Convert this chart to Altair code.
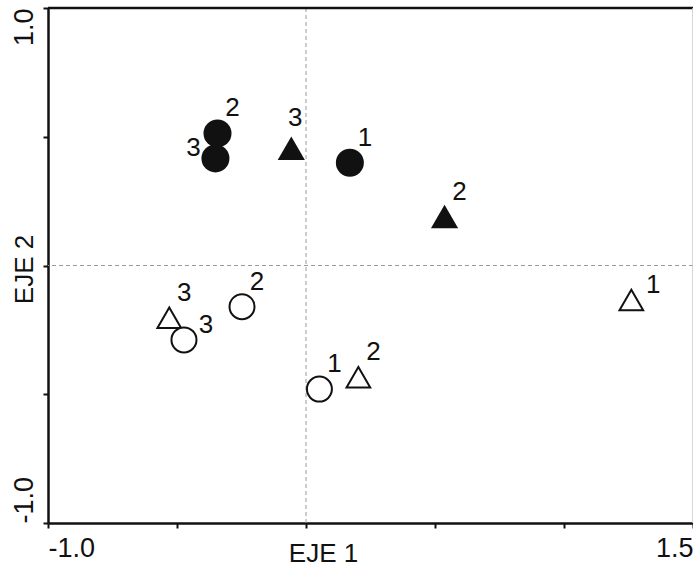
import altair as alt
import pandas as pd

FONT = "Liberation Sans"

# ---- data ----
marker = ["circle", "circle", "circle", "triangle", "triangle",
          "triangle", "triangle", "triangle", "circle", "circle", "circle"]
filled = [True, True, True, True, True, False, False, False, False, False, False]
labels = ["1", "2", "3", "2", "3", "1", "2", "3", "1", "2", "3"]
eje1 = [0.170, -0.343, -0.351, 0.537, -0.057, 1.261, 0.203, -0.530, 0.052, -0.248, -0.473]
eje2 = [0.399, 0.513, 0.416, 0.190, 0.455, -0.134, -0.434, -0.203, -0.480, -0.160, -0.289]
label_place = ["ur", "ur", "l", "ur", "u", "r", "ur", "ur", "ur", "ur", "r"]

x_ticks = [-1.0, -0.5, 0.0, 0.5, 1.0, 1.5]
y_ticks = [-1.0, -0.5, 0.0, 0.5, 1.0]

df = pd.DataFrame({"marker": marker, "filled": filled, "label": labels,
                   "x": eje1, "y": eje2, "place": label_place})

INK = "#111111"

x_axis = alt.Axis(
    values=x_ticks,
    labelExpr="datum.value == -1 ? '-1.0' : (datum.value == 1.5 ? '1.5' : '')",
    labelFlush=True, labelOverlap=False,
    labelFont=FONT, labelFontSize=27, labelColor=INK, labelPadding=7,
    tickSize=5, tickWidth=2, tickColor=INK,
    domainColor=INK, domainWidth=2.5, grid=False,
    titleFont=FONT, titleFontSize=26, titleFontWeight="normal", titleColor=INK,
    titleX=275, titleY=17, titleAlign="center", titleBaseline="top",
)
y_axis = alt.Axis(
    values=y_ticks,
    labelExpr="datum.value == -1 ? '-1.0' : (datum.value == 1 ? '1.0' : '')",
    labelFlush=False, labelOverlap=False,
    labelAngle=270,
    labelAlign={"condition": {"test": "datum.value > 0", "value": "right"}, "value": "left"},
    labelBaseline="middle",
    labelFont=FONT, labelFontSize=27, labelColor=INK, labelPadding=19,
    tickSize=5, tickWidth=2, tickColor=INK,
    domainColor=INK, domainWidth=2.5, grid=False,
    titleFont=FONT, titleFontSize=26, titleFontWeight="normal", titleColor=INK,
    titleAngle=270, titleX=-24, titleY=261, titleAlign="center", titleBaseline="middle",
)

X = alt.X("x:Q", scale=alt.Scale(domain=[-1, 1.5], nice=False, zero=False),
          axis=x_axis, title="EJE 1")
Y = alt.Y("y:Q", scale=alt.Scale(domain=[-1, 1], nice=False, zero=False),
          axis=y_axis, title="EJE 2")

base = alt.Chart(df).encode(x=X, y=Y)

ref = alt.Chart(pd.DataFrame({"v": [0]}))
vdash = ref.mark_rule(color="#9a9a9a", strokeWidth=1, strokeDash=[4, 3]).encode(x=alt.datum(0))
hdash = ref.mark_rule(color="#9a9a9a", strokeWidth=1, strokeDash=[4, 3]).encode(y=alt.datum(0))
top = ref.mark_rule(color=INK, strokeWidth=2.5).encode(y=alt.datum(1.0))
right = ref.mark_rule(color="#c8c8c8", strokeWidth=1.5).encode(x=alt.datum(1.5))

open_tri = base.transform_filter("datum.marker == 'triangle' && !datum.filled").mark_point(
    shape="triangle-up", size=560, filled=True, fill="white", stroke=INK, strokeWidth=2, opacity=1)
open_circ = base.transform_filter("datum.marker == 'circle' && !datum.filled").mark_point(
    shape="circle", size=625, filled=True, fill="white", stroke=INK, strokeWidth=2, opacity=1)
fill_tri = base.transform_filter("datum.marker == 'triangle' && datum.filled").mark_point(
    shape="triangle-up", size=740, filled=True, color=INK, opacity=1)
fill_circ = base.transform_filter("datum.marker == 'circle' && datum.filled").mark_point(
    shape="circle", size=784, filled=True, color=INK, opacity=1)

offsets = {"ur": (15, -25), "l": (-22, -10), "u": (4, -30), "r": (22, -15)}
texts = []
for key, (dx, dy) in offsets.items():
    texts.append(
        base.transform_filter(f"datum.place == '{key}'").mark_text(
            font=FONT, fontSize=26, color=INK, dx=dx, dy=dy,
            align="center", baseline="middle").encode(text="label:N")
    )

chart = alt.layer(vdash, hdash, top, right, open_tri, open_circ, fill_tri, fill_circ, *texts).properties(
    width=645, height=515,
    autosize=alt.AutoSizeParams(type="none"),
    padding={"left": 48, "top": 8, "right": 0, "bottom": 44},
    background="white",
).configure_view(stroke=None)

chart.save("out.html", embed_options={"renderer": "svg", "actions": False})
